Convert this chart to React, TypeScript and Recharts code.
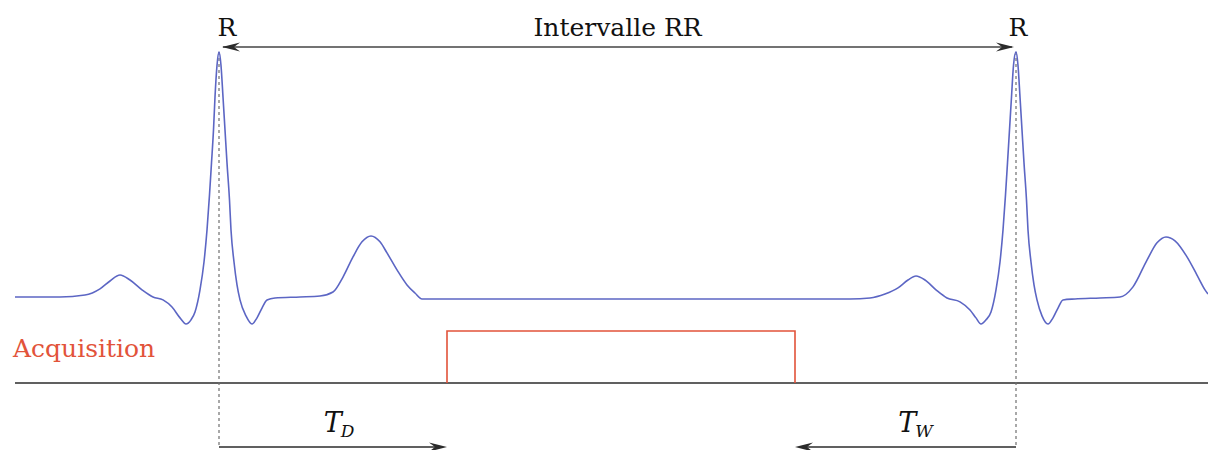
import { ComposedChart, Line, XAxis, YAxis, ReferenceLine } from "recharts"

// ECG trace: time in ms, amplitude in mV (R peak = 1)
const ecgTimeMs = [
  15, 60, 85, 100, 110, 120, 130, 142, 153, 163,
  172, 180, 186, 191, 195, 200, 204, 207, 209.5, 211.5, 213.5, 215, 217, 219,
  221, 223, 225, 227, 229.5, 231, 234, 237, 240, 246, 252, 257, 262, 267,
  275, 300, 320, 333, 343, 353, 362, 371, 380, 387, 397, 407, 415, 422,
  600, 850, 870, 885, 898, 908, 916, 925, 936, 947, 960,
  970, 976, 981, 986, 991, 996, 1000, 1003, 1005.5, 1007.5, 1009.5, 1011.5, 1013.5, 1016,
  1018, 1020, 1022, 1024, 1026.5, 1028, 1031, 1034, 1037, 1042, 1048, 1053, 1058, 1063,
  1075, 1100, 1120, 1133, 1147, 1157, 1166, 1175, 1187, 1197, 1205, 1208,
]
const ecgMv = [
  0.004, 0.004, 0.012, 0.037, 0.069, 0.093, 0.073, 0.033, 0.004, -0.008,
  -0.037, -0.081, -0.106, -0.089, -0.057, 0.033, 0.146, 0.276, 0.419, 0.549, 0.683, 0.817, 0.945, 1.0,
  0.945, 0.817, 0.683, 0.549, 0.398, 0.276, 0.146, 0.053, -0.008, -0.073, -0.106, -0.081, -0.041, -0.008,
  0.0, 0.004, 0.008, 0.024, 0.085, 0.167, 0.228, 0.252, 0.228, 0.183, 0.114, 0.053, 0.02, -0.004,
  -0.004, -0.004, 0.0, 0.016, 0.041, 0.073, 0.089, 0.073, 0.033, 0.0, -0.016,
  -0.049, -0.081, -0.106, -0.089, -0.057, 0.033, 0.146, 0.276, 0.419, 0.549, 0.683, 0.817, 0.945, 1.0,
  0.945, 0.817, 0.683, 0.549, 0.398, 0.276, 0.146, 0.053, -0.008, -0.073, -0.106, -0.081, -0.041, -0.008,
  -0.004, 0.0, 0.004, 0.045, 0.154, 0.224, 0.248, 0.232, 0.167, 0.093, 0.033, 0.016,
]

// acquisition gate
const acqTimeMs = [447, 447, 795, 795]
const acqLevel = [0, 1, 1, 0]

// R peaks
const rPeakMs = [219, 1016]
const rPeakMv = [1.0, 1.0]

const ecgData = ecgTimeMs.map((t, i) => ({ t, v: ecgMv[i] }))
const acqData = acqTimeMs.map((t, i) => ({ t, g: acqLevel[i] }))

// only DejaVu Serif resolves to a real serif face here
const SERIF = '"DejaVu Serif", serif'
const INK = "#2b2b2b"
const ECG_COLOR = "#5c66c4"
const ACQ_COLOR = "#e2533a"

// annotation levels (mV on the ECG axis)
const RR_ARROW_Y = 1.02
const BOTTOM_ARROW_Y = -0.606

const txt = (size: number, color = "#111", italic = false) => ({
  fontFamily: SERIF,
  fontSize: size,
  fill: color,
  fontStyle: italic ? "italic" : "normal",
})

function head(x: number, y: number, dir: number) {
  // stealth-like arrow head pointing in dir (+1 right, -1 left)
  const pts = [
    [x, y],
    [x - dir * 18, y - 4.5],
    [x - dir * 12, y],
    [x - dir * 18, y + 4.5],
  ]
  return <polygon points={pts.map((p) => p.join(",")).join(" ")} fill={INK} />
}

function RRArrow(props: any) {
  const { x1, y1, x2, y2 } = props
  return (
    <g>
      <line x1={x1 + 4} y1={y1} x2={x2 - 4} y2={y2} stroke="#444" strokeWidth={1.7} />
      {head(x1 + 3, y1, -1)}
      {head(x2 - 2, y2, 1)}
      <text x={(x1 + x2) / 2} y={y1 - 11} textAnchor="middle" style={txt(25)}>
        Intervalle RR
      </text>
      <text x={x1 + 8} y={y1 - 11} textAnchor="middle" style={txt(25)}>
        R
      </text>
      <text x={x2 + 2} y={y2 - 11} textAnchor="middle" style={txt(25)}>
        R
      </text>
    </g>
  )
}

function makeTimeArrow(sub: string, shift: number) {
  return (props: any) => {
    const { x1, y1, x2, y2 } = props
    const dir = x2 > x1 ? 1 : -1
    const mid = (x1 + x2) / 2 + shift
    return (
      <g>
        <line x1={x1} y1={y1} x2={x2 - dir * 4} y2={y2} stroke={INK} strokeWidth={1.6} />
        {head(x2, y2, dir)}
        <text x={mid} y={y1 - 15} textAnchor="middle" style={txt(27, "#111", true)}>
          <tspan>T</tspan>
          <tspan dx={-1} dy={5} style={{ fontSize: 17 }}>{sub}</tspan>
        </text>
      </g>
    )
  }
}

function Baseline(props: any) {
  const { x1, y1, x2, y2 } = props
  return (
    <g>
      <line x1={x1} y1={y1} x2={x2} y2={y2} stroke={INK} strokeWidth={1.5} />
      <text x={x1 - 2} y={y1 - 26} style={txt(25, ACQ_COLOR)}>
        Acquisition
      </text>
    </g>
  )
}

export default function App() {
  return (
    <div style={{ position: "absolute", left: 0, top: 0, background: "#fff" }}>
      <ComposedChart width={1208} height={450} margin={{ top: 0, right: 0, bottom: 0, left: 0 }}>
        <XAxis dataKey="t" type="number" domain={[0, 1208]} allowDataOverflow hide />
        <YAxis yAxisId="ecg" type="number" domain={[-0.618, 1.211]} allowDataOverflow hide />
        <YAxis yAxisId="acq" type="number" domain={[-1.288, 7.365]} allowDataOverflow hide />

        <ReferenceLine
          yAxisId="acq"
          segment={[{ x: 15, y: 0 }, { x: 1208, y: 0 }]}
          shape={Baseline}
        />
        {rPeakMs.map((t, i) => (
          <ReferenceLine
            key={t}
            yAxisId="ecg"
            segment={[{ x: t, y: rPeakMv[i] }, { x: t, y: BOTTOM_ARROW_Y }]}
            stroke="#6f6f6f"
            strokeWidth={1.2}
            strokeDasharray="3 3"
          />
        ))}
        <ReferenceLine
          yAxisId="ecg"
          segment={[{ x: rPeakMs[0], y: RR_ARROW_Y }, { x: rPeakMs[1], y: RR_ARROW_Y }]}
          shape={RRArrow}
        />
        <ReferenceLine
          yAxisId="ecg"
          segment={[{ x: rPeakMs[0], y: BOTTOM_ARROW_Y }, { x: acqTimeMs[0], y: BOTTOM_ARROW_Y }]}
          shape={makeTimeArrow("D", 6)}
        />
        <ReferenceLine
          yAxisId="ecg"
          segment={[{ x: rPeakMs[1], y: BOTTOM_ARROW_Y }, { x: acqTimeMs[3], y: BOTTOM_ARROW_Y }]}
          shape={makeTimeArrow("W", 10)}
        />

        <Line
          yAxisId="acq"
          data={acqData}
          dataKey="g"
          type="linear"
          stroke={ACQ_COLOR}
          strokeWidth={1.6}
          dot={false}
          activeDot={false}
          isAnimationActive={false}
        />
        <Line
          yAxisId="ecg"
          data={ecgData}
          dataKey="v"
          type="monotone"
          stroke={ECG_COLOR}
          strokeWidth={1.6}
          dot={false}
          activeDot={false}
          isAnimationActive={false}
        />
      </ComposedChart>
    </div>
  )
}
